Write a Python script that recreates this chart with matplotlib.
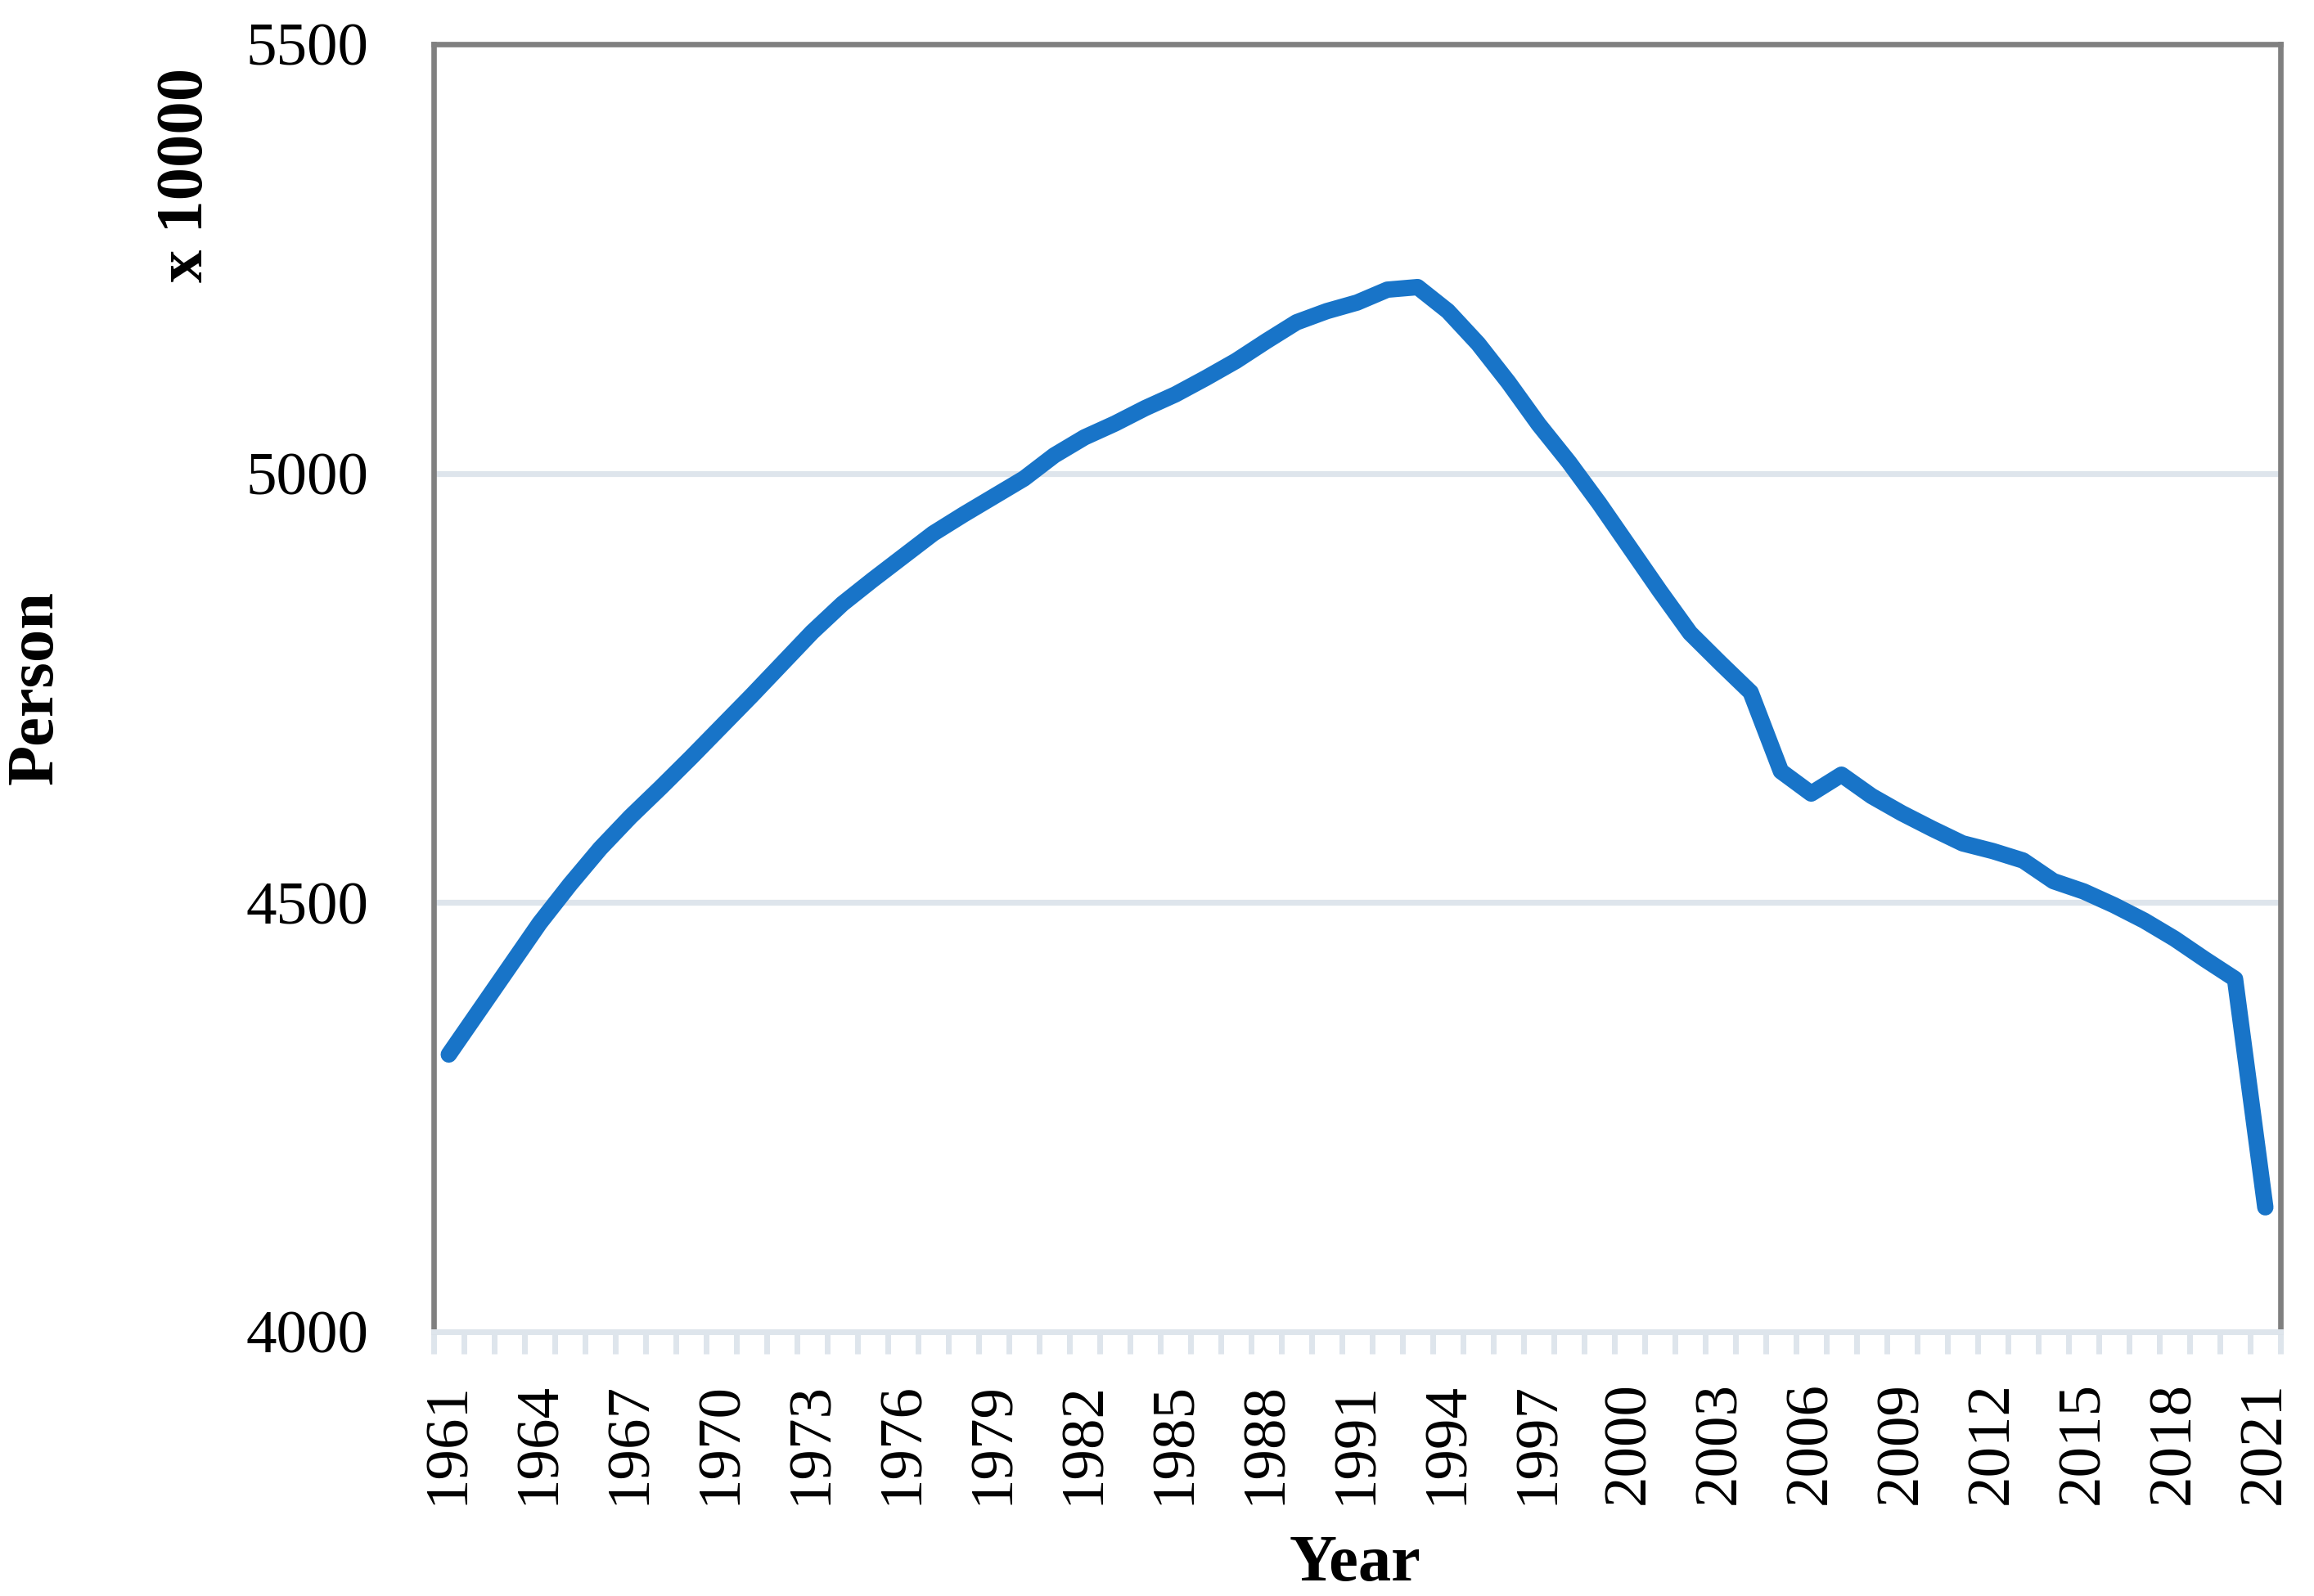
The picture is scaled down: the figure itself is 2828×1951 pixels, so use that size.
import matplotlib
matplotlib.use("Agg")
import matplotlib.pyplot as plt
from matplotlib.ticker import FixedLocator

years = list(range(1961, 2022))
population = [
    4323, 4374, 4425, 4476, 4521, 4563, 4600, 4634, 4669, 4705,
    4741, 4778, 4815, 4848, 4876, 4903, 4930, 4952, 4973, 4994,
    5021, 5042, 5058, 5076, 5092, 5111, 5131, 5154, 5176, 5189,
    5199, 5214, 5217, 5189, 5151, 5106, 5057, 5013, 4965, 4914,
    4863, 4814, 4779, 4745, 4653, 4627, 4649, 4624, 4604, 4586,
    4569, 4560, 4549, 4525, 4513, 4497, 4479, 4458, 4434, 4411,
    4145,
]
label_years = list(range(1961, 2022, 3))
y_ticks = [4000, 4500, 5000, 5500]

FONT = ["Liberation Serif", "DejaVu Serif"]
plt.rcParams["font.family"] = FONT

W, H = 2828, 1951
fig = plt.figure(figsize=(W / 100, H / 100), dpi=100)
ax = fig.add_axes([530 / W, 1 - 1628 / H, (2787 - 530) / W, (1628 - 54) / H])

line_color = "#1874C8"
grid_color = "#DEE5EC"
spine_gray = "#808080"

ax.plot(years, population, color=line_color, linewidth=14.4,
        solid_capstyle="round", solid_joinstyle="round", zorder=3)

ax.set_xlim(years[0] - 0.5, years[-1] + 0.5)
ax.set_ylim(4000, 5500)

# gridlines
for v in [4500, 5000]:
    ax.axhline(v, color=grid_color, linewidth=5.2, zorder=1)

for s in ["left", "top", "right"]:
    ax.spines[s].set_color(spine_gray)
    ax.spines[s].set_linewidth(4.8)
ax.spines["bottom"].set_color(grid_color)
ax.spines["bottom"].set_linewidth(5.0)

ax.set_yticks(y_ticks)
ax.set_yticklabels([str(v) for v in y_ticks])
ax.tick_params(axis="y", length=0, pad=57, labelsize=54)

ax.xaxis.set_major_locator(FixedLocator(label_years))
ax.set_xticklabels([str(y) for y in label_years], rotation=90)
ax.tick_params(axis="x", which="major", length=0, pad=44, labelsize=54)
ax.xaxis.set_minor_locator(FixedLocator([y - 0.5 for y in years] + [years[-1] + 0.5]))
ax.tick_params(axis="x", which="minor", length=19.5, width=5.0,
               color=grid_color, direction="out")

fig.text(1656 / W, 1 - 1912 / H, "Year", ha="center", va="center",
         fontsize=58, fontweight="bold")
fig.text(44 / W, 1 - 840 / H, "Person", ha="center", va="center",
         rotation=90, fontsize=58, fontweight="bold")
fig.text(227 / W, 1 - 214 / H, "x 10000", ha="center", va="center",
         rotation=90, fontsize=58, fontweight="bold")

fig.savefig("out.png", dpi=100, facecolor="white")
